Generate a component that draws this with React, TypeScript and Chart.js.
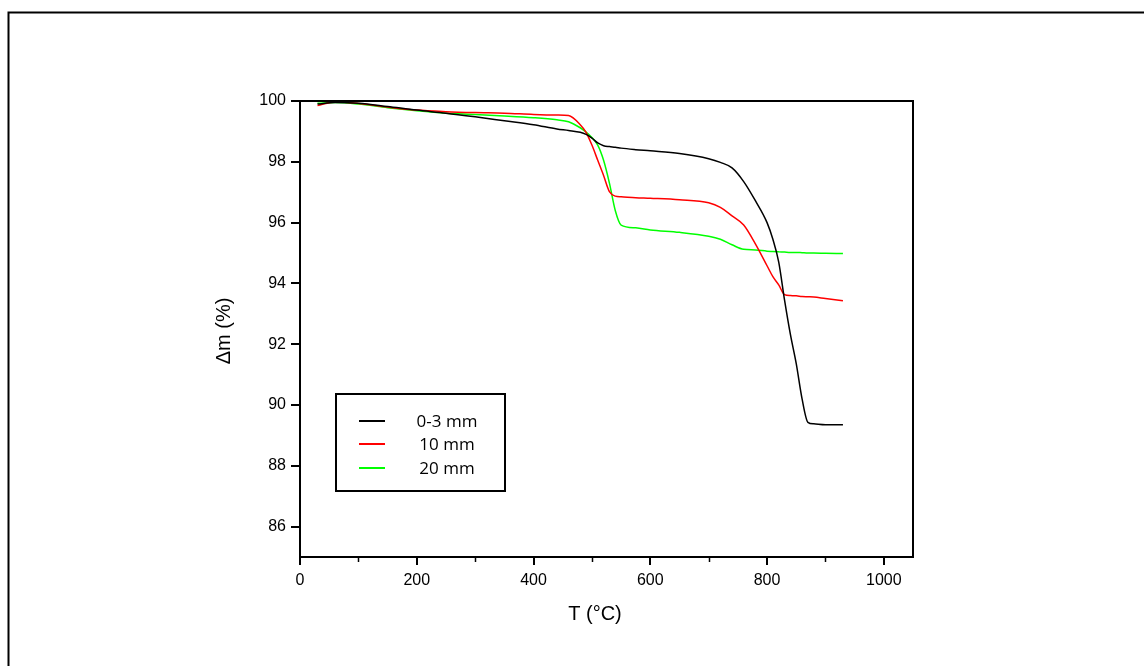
import React, { useEffect, useRef } from 'react';
import { Chart, registerables } from 'chart.js';

Chart.register(...registerables);

// Temperature grid (°C)
const tempC = [30, 60, 100, 150, 200, 250, 300, 350, 400, 440, 460, 480, 490, 500, 510, 520, 530, 540, 550, 575, 600, 650, 700, 720, 740, 760, 780, 800, 810, 820, 830, 840, 850, 860, 870, 880, 900, 930];

// Mass change (%) for each sample
const mass0to3 = [99.90, 99.95, 99.93, 99.82, 99.70, 99.60, 99.48, 99.35, 99.22, 99.08, 99.03, 98.97, 98.90, 98.78, 98.62, 98.53, 98.50, 98.48, 98.45, 98.40, 98.36, 98.27, 98.10, 97.98, 97.80, 97.35, 96.72, 96.00, 95.45, 94.70, 93.45, 92.32, 91.36, 90.20, 89.43, 89.38, 89.35, 89.35];
const mass10 = [99.85, 99.97, 99.92, 99.80, 99.70, 99.65, 99.62, 99.60, 99.56, 99.54, 99.52, 99.22, 98.97, 98.55, 98.05, 97.55, 97.02, 96.87, 96.85, 96.82, 96.80, 96.75, 96.65, 96.50, 96.22, 95.92, 95.30, 94.58, 94.22, 93.95, 93.63, 93.60, 93.59, 93.57, 93.56, 93.55, 93.50, 93.43];
const mass20 = [99.93, 99.95, 99.90, 99.78, 99.68, 99.60, 99.56, 99.51, 99.45, 99.38, 99.32, 99.12, 98.98, 98.80, 98.55, 98.05, 97.30, 96.40, 95.92, 95.83, 95.76, 95.68, 95.55, 95.45, 95.27, 95.12, 95.10, 95.06, 95.05, 95.04, 95.03, 95.02, 95.02, 95.01, 95.00, 95.00, 94.99, 94.98];

const seriesLabels = ['0-3 mm', '10 mm', '20 mm'];
const seriesColors = ['#000000', '#ff0000', '#00ff00'];

const xTicks = [0, 200, 400, 600, 800, 1000];
const xMinorTicks = [100, 300, 500, 700, 900];
const yTicks = [86, 88, 90, 92, 94, 96, 98, 100];

const xTitle = 'T (°C)';
const yTitle = 'Δm (%)';

const tickFont = { family: "'Liberation Sans', Arial, sans-serif", size: 16 };

const decorPlugin = {
  id: 'decor',
  afterDraw(chart: any) {
    const ctx = chart.ctx;
    const { left, right, top, bottom } = chart.chartArea;
    ctx.save();
    ctx.strokeStyle = '#000';
    ctx.lineWidth = 2;
    // outer frame
    ctx.strokeRect(8.5, 12.5, 1300, 800);
    // plot border
    ctx.strokeRect(left, top, right - left, bottom - top);
    // minor x ticks
    const xs = chart.scales.x;
    ctx.lineWidth = 1.5;
    xMinorTicks.forEach((v) => {
      const px = Math.round(xs.getPixelForValue(v)) + 0.5;
      ctx.beginPath();
      ctx.moveTo(px, bottom);
      ctx.lineTo(px, bottom + 5);
      ctx.stroke();
    });
    // axis titles
    ctx.fillStyle = '#000';
    ctx.font = "20px 'Liberation Sans', Arial, sans-serif";
    ctx.textAlign = 'center';
    ctx.textBaseline = 'middle';
    ctx.fillText(xTitle, 595, 614);
    ctx.save();
    ctx.translate(224, 331);
    ctx.rotate(-Math.PI / 2);
    ctx.fillText(yTitle, 0, 0);
    ctx.restore();
    // legend
    const bx = 336, by = 394, bw = 169, bh = 97;
    ctx.fillStyle = '#fff';
    ctx.fillRect(bx, by, bw, bh);
    ctx.strokeStyle = '#000';
    ctx.lineWidth = 2;
    ctx.strokeRect(bx, by, bw, bh);
    const rows = [421, 444, 468];
    ctx.font = "17px 'Open Sans', 'Noto Sans', sans-serif";
    chart.data.datasets.forEach((ds: any, i: number) => {
      ctx.strokeStyle = ds.borderColor;
      ctx.lineWidth = 2;
      ctx.beginPath();
      ctx.moveTo(359, rows[i]);
      ctx.lineTo(385, rows[i]);
      ctx.stroke();
      ctx.fillStyle = '#000';
      ctx.textAlign = 'center';
      ctx.fillText(ds.label, 447, rows[i] + 1);
    });
    ctx.restore();
  },
};

export default function App() {
  const ref = useRef<HTMLCanvasElement | null>(null);
  useEffect(() => {
    if (!ref.current) return;
    const all = [mass0to3, mass10, mass20];
    const chart = new Chart(ref.current, {
      type: 'line',
      data: {
        datasets: all.map((arr, i) => ({
          label: seriesLabels[i],
          data: tempC.map((t, j) => ({ x: t, y: arr[j] })),
          borderColor: seriesColors[i],
          backgroundColor: seriesColors[i],
          borderWidth: 1.5,
          pointRadius: 0,
          cubicInterpolationMode: 'monotone',
          fill: false,
        })),
      },
      options: {
        responsive: false,
        animation: false,
        events: [],
        layout: { padding: { left: 0, top: 101, right: 231, bottom: 0 } },
        plugins: { legend: { display: false }, tooltip: { enabled: false }, title: { display: false } },
        scales: {
          x: {
            type: 'linear',
            min: 0,
            max: 1050,
            afterFit: (s: any) => { s.height = 109; },
            afterBuildTicks: (s: any) => { s.ticks = xTicks.map((v) => ({ value: v })); },
            ticks: { color: '#000', font: tickFont, padding: 6, maxRotation: 0, autoSkip: false, callback: (v: any) => String(v) },
            grid: { display: true, drawOnChartArea: false, drawTicks: true, tickLength: 8, color: '#000', lineWidth: 2 },
            border: { display: true, color: '#000', width: 2 },
          },
          y: {
            type: 'linear',
            min: 85,
            max: 100,
            afterFit: (s: any) => { s.width = 300; },
            afterBuildTicks: (s: any) => { s.ticks = yTicks.map((v) => ({ value: v })); },
            ticks: { color: '#000', font: tickFont, padding: 5, autoSkip: false, callback: (v: any) => String(v) },
            grid: { display: true, drawOnChartArea: false, drawTicks: true, tickLength: 9, color: '#000', lineWidth: 2 },
            border: { display: true, color: '#000', width: 2 },
          },
        },
      },
      plugins: [decorPlugin],
    });
    return () => chart.destroy();
  }, []);
  return (
    <div style={{ position: 'fixed', left: 0, top: 0, width: 1144, height: 666, background: '#fff' }}>
      <canvas ref={ref} width={1144} height={666} style={{ display: 'block' }} />
    </div>
  );
}
